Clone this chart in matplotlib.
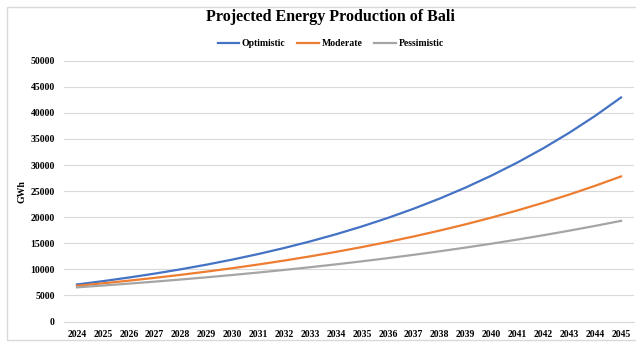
import matplotlib.pyplot as plt
from matplotlib.patches import Rectangle

years = list(range(2024, 2046))
optimistic = [7100, 7735, 8427, 9181, 10003, 10898, 11873, 12936, 14094, 15355,
              16729, 18226, 19857, 21634, 23570, 25680, 27978, 30482, 33210,
              36182, 39420, 42950]
moderate = [6850, 7323, 7828, 8368, 8945, 9562, 10222, 10927, 11681, 12487,
            13349, 14270, 15255, 16307, 17432, 18635, 19921, 21296, 22766,
            24337, 26017, 27812]
pessimistic = [6550, 6896, 7260, 7643, 8047, 8471, 8919, 9390, 9886, 10408,
               10958, 11536, 12146, 12787, 13462, 14173, 14921, 15709, 16538,
               17411, 18330, 19298]

plt.rcParams['font.family'] = ['Liberation Serif', 'DejaVu Serif']
plt.rcParams['font.weight'] = 'bold'

fig = plt.figure(figsize=(6.36, 3.45), dpi=100)
W, H = 636, 345
ax = fig.add_axes([64 / W, (H - 321.5) / H, 570 / W, 260.8 / H])

ax.plot(years, optimistic, color='#4472C4', lw=1.6, label='Optimistic')
ax.plot(years, moderate, color='#ED7D31', lw=1.6, label='Moderate')
ax.plot(years, pessimistic, color='#A5A5A5', lw=1.6, label='Pessimistic')

ax.set_xlim(2023.5, 2045.5)
ax.set_ylim(0, 50000)
ax.set_yticks(range(0, 50001, 5000))
ax.set_xticks(years)
ax.set_xticklabels([str(y) for y in years])
ax.tick_params(length=0, labelsize=7, pad=6)
ax.tick_params(axis='y', pad=6.5)
ax.grid(axis='y', color='#D9D9D9', lw=0.8)
ax.set_axisbelow(True)
for s in ['top', 'right', 'left']:
    ax.spines[s].set_visible(False)
ax.spines['bottom'].set_color('#D9D9D9')
ax.spines['bottom'].set_linewidth(0.8)
ax.set_ylabel('GWh', fontsize=7, fontweight='bold', labelpad=3)

fig.text(0.52, (H - 17) / H, 'Projected Energy Production of Bali',
         ha='center', va='center', fontsize=11.5, fontweight='bold')
fig.legend(loc='center', bbox_to_anchor=(0.52, (H - 44) / H), ncol=3,
           frameon=False, fontsize=7, handlelength=2.2, handletextpad=0.3,
           columnspacing=1.2)

# chart frame
fig.patches.append(Rectangle((7 / W, 5 / H), 1.0, (340 - 7) / H,
                             transform=fig.transFigure, fill=False,
                             edgecolor='#D9D9D9', lw=1.0))

fig.savefig('out.png', dpi=100)
